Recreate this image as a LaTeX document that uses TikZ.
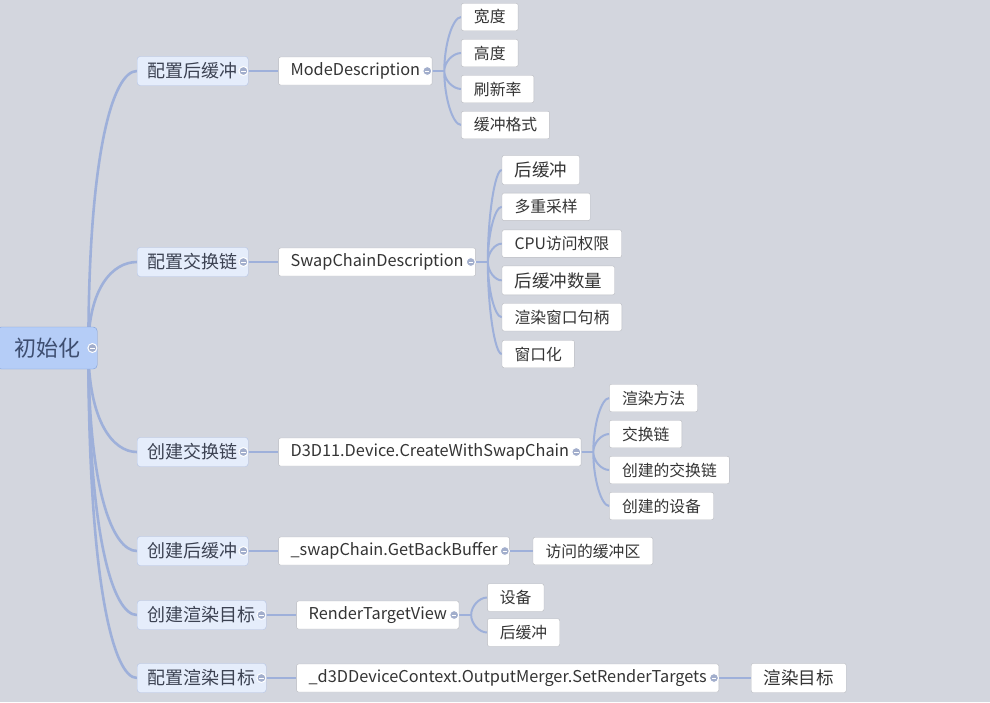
\documentclass[tikz,border=0pt]{standalone}
\usepackage{fontspec}
\setmainfont{Noto Sans CJK SC}
\definecolor{mapbg}{RGB}{211,214,222}
\definecolor{limbblue}{RGB}{158,176,218}
\definecolor{knobblue}{RGB}{162,174,204}
\definecolor{rootfill}{RGB}{181,205,247}
\definecolor{rootdraw}{RGB}{124,158,218}
\definecolor{roottext}{RGB}{62,78,112}
\definecolor{topicfill}{RGB}{229,237,251}
\definecolor{topicdraw}{RGB}{180,196,230}
\definecolor{topictext}{RGB}{60,66,82}
\definecolor{leafdraw}{RGB}{184,186,192}
\definecolor{leaftext}{RGB}{52,52,52}
\usetikzlibrary{calc}
\usetikzlibrary{positioning}
\usetikzlibrary{backgrounds}

\begin{document}
\begin{tikzpicture}[x=1pt, y=-1pt,
  limb/.style={draw=limbblue, line width=2.6pt},
  twig/.style={draw=limbblue, line width=2pt},
  elbow/.style={to path={.. controls ($(\tikztostart)!#1!(\tikztostart|-\tikztotarget)$) and ($(\tikztotarget)!0.5!(\tikztostart|-\tikztotarget)$) .. (\tikztotarget)}},
  elbow/.default=0.7,
  big/.style={font=\fontsize{17.5pt}{20pt}\selectfont, minimum height=29pt}]
  \useasboundingbox (0,0) rectangle (990,702);

  \node [draw=rootdraw, fill=rootfill, rounded corners=4pt, minimum height=42pt, minimum width=100pt, text=roottext, font=\fontsize{22pt}{24pt}\selectfont, anchor=west] (init) at (-3,348) {初始化};

  \begin{scope}[every node/.style={draw=topicdraw, fill=topicfill, rounded corners=3pt, minimum height=29pt, inner xsep=10.5pt, text=topictext, font=\fontsize{18pt}{20pt}\selectfont, anchor=west}]
    \node (t1) at (137,71) {配置后缓冲};
    \node (t2) at (137,262) {配置交换链};
    \node (t3) at (137,452) {创建交换链};
    \node (t4) at (137,551) {创建后缓冲};
    \node (t5) at (137,615) {创建渲染目标};
    \node (t6) at (137,678) {配置渲染目标};
  \end{scope}

  \begin{scope}[every node/.style={draw=leafdraw, fill=white, rounded corners=2pt, minimum height=28pt, inner xsep=12pt, text=leaftext, font=\fontsize{16.3pt}{18pt}\selectfont}]
    \node [right=30pt of t1] (s1) {ModeDescription};
    \node [right=30pt of t2] (s2) {SwapChainDescription};
    \node [right=30pt of t3] (s3) {D3D11.Device.CreateWithSwapChain};
    \node [right=30pt of t4] (s4) {\_swapChain.GetBackBuffer};
    \node [right=30pt of t5] (s5) {RenderTargetView};
    \node [right=30pt of t6] (s6) {\_d3DDeviceContext.OutputMerger.SetRenderTargets};
  \end{scope}

  \begin{scope}[every node/.style={draw=leafdraw, fill=white, rounded corners=2pt, minimum height=27.5pt, inner xsep=12.5pt, text=leaftext, font=\fontsize{15.8pt}{18pt}\selectfont}]
    \node [right=29pt of s1, yshift=54pt] (a1) {宽度};
    \node [right=29pt of s1, yshift=18pt] (a2) {高度};
    \node [right=29pt of s1, yshift=-18pt] (a3) {刷新率};
    \node [right=29pt of s1, yshift=-54pt] (a4) {缓冲格式};

    \node [big, right=26pt of s2, yshift=92pt] (b1) {后缓冲};
    \node [right=26pt of s2, yshift=55.2pt] (b2) {多重采样};
    \node [right=26pt of s2, yshift=18.4pt] (b3) {CPU访问权限};
    \node [big, right=26pt of s2, yshift=-18.4pt] (b4) {后缓冲数量};
    \node [right=26pt of s2, yshift=-55.2pt] (b5) {渲染窗口句柄};
    \node [right=26pt of s2, yshift=-92pt] (b6) {窗口化};

    \node [right=28pt of s3, yshift=54pt] (c1) {渲染方法};
    \node [right=28pt of s3, yshift=18pt] (c2) {交换链};
    \node [right=28pt of s3, yshift=-18pt] (c3) {创建的交换链};
    \node [right=28pt of s3, yshift=-54pt] (c4) {创建的设备};

    \node [right=23pt of s4] (d1) {访问的缓冲区};

    \node [right=28pt of s5, yshift=17.5pt] (e1) {设备};
    \node [right=28pt of s5, yshift=-17.5pt] (e2) {后缓冲};

    \node [big, right=32pt of s6] (g1) {渲染目标};
  \end{scope}

  \begin{scope}[every node/.style={circle, fill=knobblue, draw=white, line width=1pt, inner sep=0pt, minimum size=9pt,
      path picture={\draw[white, line width=0.8pt] ([xshift=-2.2pt]path picture bounding box.center) -- ([xshift=2.2pt]path picture bounding box.center);}}]
    \node (k0) at ([xshift=-5pt]init.east) {};
    \node (k1) at ([xshift=-5pt]t1.east) {};
    \node (k2) at ([xshift=-5pt]t2.east) {};
    \node (k3) at ([xshift=-5pt]t3.east) {};
    \node (k4) at ([xshift=-5pt]t4.east) {};
    \node (k5) at ([xshift=-5pt]t5.east) {};
    \node (k6) at ([xshift=-5pt]t6.east) {};
    \node (k7) at ([xshift=-5pt]s1.east) {};
    \node (k8) at ([xshift=-5pt]s2.east) {};
    \node (k9) at ([xshift=-5pt]s3.east) {};
    \node (k10) at ([xshift=-5pt]s4.east) {};
    \node (k11) at ([xshift=-5pt]s5.east) {};
    \node (k12) at ([xshift=-5pt]s6.east) {};
  \end{scope}

  \begin{scope}[on background layer]
    \fill [mapbg] (0,0) rectangle (990,702);
    \coordinate (hub) at ([xshift=-9pt]init.east);
    \draw [limb] (hub) to[elbow] (t1.west);
    \draw [limb] (hub) to[elbow] (t2.west);
    \draw [limb] (hub) to[elbow] (t3.west);
    \draw [limb] (hub) to[elbow] (t4.west);
    \draw [limb] (hub) to[elbow] (t5.west);
    \draw [limb] (hub) to[elbow] (t6.west);

    \draw [twig] (t1) -- (s1);
    \draw [twig] (t2) -- (s2);
    \draw [twig] (t3) -- (s3);
    \draw [twig] (t4) -- (s4);
    \draw [twig] (t5) -- (s5);
    \draw [twig] (t6) -- (s6);
    \draw [twig] (s4) -- (d1);
    \draw [twig] (s6) -- (g1);

    \coordinate (f1) at ([xshift=12pt]s1.east);
    \coordinate (f2) at ([xshift=12pt]s2.east);
    \coordinate (f3) at ([xshift=12pt]s3.east);
    \coordinate (f5) at ([xshift=12pt]s5.east);
    \draw [twig] (s1.east) -- (f1) (s2.east) -- (f2) (s3.east) -- (f3) (s5.east) -- (f5);
    \draw [twig] (f1) to[elbow=0.5] (a1.west) (f1) to[elbow=0.5] (a2.west) (f1) to[elbow=0.5] (a3.west) (f1) to[elbow=0.5] (a4.west);
    \draw [twig] (f2) to[elbow=0.5] (b1.west) (f2) to[elbow=0.5] (b2.west) (f2) to[elbow=0.5] (b3.west) (f2) to[elbow=0.5] (b4.west) (f2) to[elbow=0.5] (b5.west) (f2) to[elbow=0.5] (b6.west);
    \draw [twig] (f3) to[elbow=0.5] (c1.west) (f3) to[elbow=0.5] (c2.west) (f3) to[elbow=0.5] (c3.west) (f3) to[elbow=0.5] (c4.west);
    \draw [twig] (f5) to[elbow=0.5] (e1.west) (f5) to[elbow=0.5] (e2.west);
  \end{scope}
\end{tikzpicture}
\end{document}
